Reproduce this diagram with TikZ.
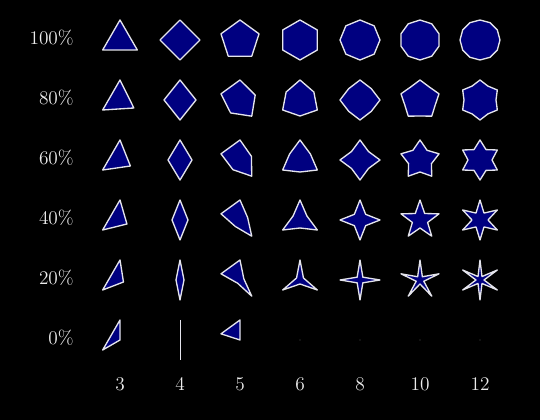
\documentclass[tikz,border=0pt]{standalone}
\usetikzlibrary{positioning}

\definecolor{shapefill}{RGB}{0,0,128}
\definecolor{shapeline}{RGB}{228,228,236}
\definecolor{labeltext}{RGB}{236,236,236}

% one star-ish polygon: #1 corners, #2 x, #3 y, #4 percent of inner radius
\newcommand{\polystar}[4]{%
  \pgfmathtruncatemacro\lastk{#1-1}%
  \draw[shapebox] (#2,#3-20)
    \foreach \k in {1,...,\lastk} {
      -- ({#2+20*(1-(1-#4/100)*mod(\k,2))*sin(\k*360/#1)},
          {#3-20*(1-(1-#4/100)*mod(\k,2))*cos(\k*360/#1)})
    } -- cycle;
}

\begin{document}
\begin{tikzpicture}[
  x=0.75pt, y=-0.75pt,
  font=\fontsize{14.5}{16}\selectfont,
  shapebox/.style={fill=shapefill, draw=shapeline, line width=1pt, line join=round},
  labeltxt/.style={text=labeltext, inner sep=0pt}
]
% Background fixes the page size
\fill[black] (0,0) rectangle (540,420);
\useasboundingbox (0,0) rectangle (540,420);

% Row labels: inner radius in percent
\foreach \p/\y in {100/40,80/100,60/160,40/220,20/280,0/340}
  \node[labeltxt, anchor=base east] (row\p) at (74,\y+5) {\p\%};

% Column labels: number of corners
\foreach \n/\x in {3/120,4/180,5/240,6/300,8/360,10/420,12/480}
  \node[labeltxt, anchor=base] (col\n) at (\x,391) {\n};

% Grid of shapes
\foreach \p/\y in {100/40,80/100,60/160,40/220,20/280}
  \foreach \n/\x in {3/120,4/180,5/240,6/300,8/360,10/420,12/480}
    {\polystar{\n}{\x}{\y}{\p}}

% Bottom row: what is left at 0%
\polystar{3}{120}{340}{0}
\draw[shapebox, line width=0.5pt] (180,320) -- (180,360);
\draw[shapebox] (240,320) -- (240,340)
  -- ({240+20*sin(288)},{340-20*cos(288)}) -- cycle;
\foreach \x in {300,360,420,480}
  \fill[white!30!black] (\x,340) circle (0.7);
\end{tikzpicture}
\end{document}
